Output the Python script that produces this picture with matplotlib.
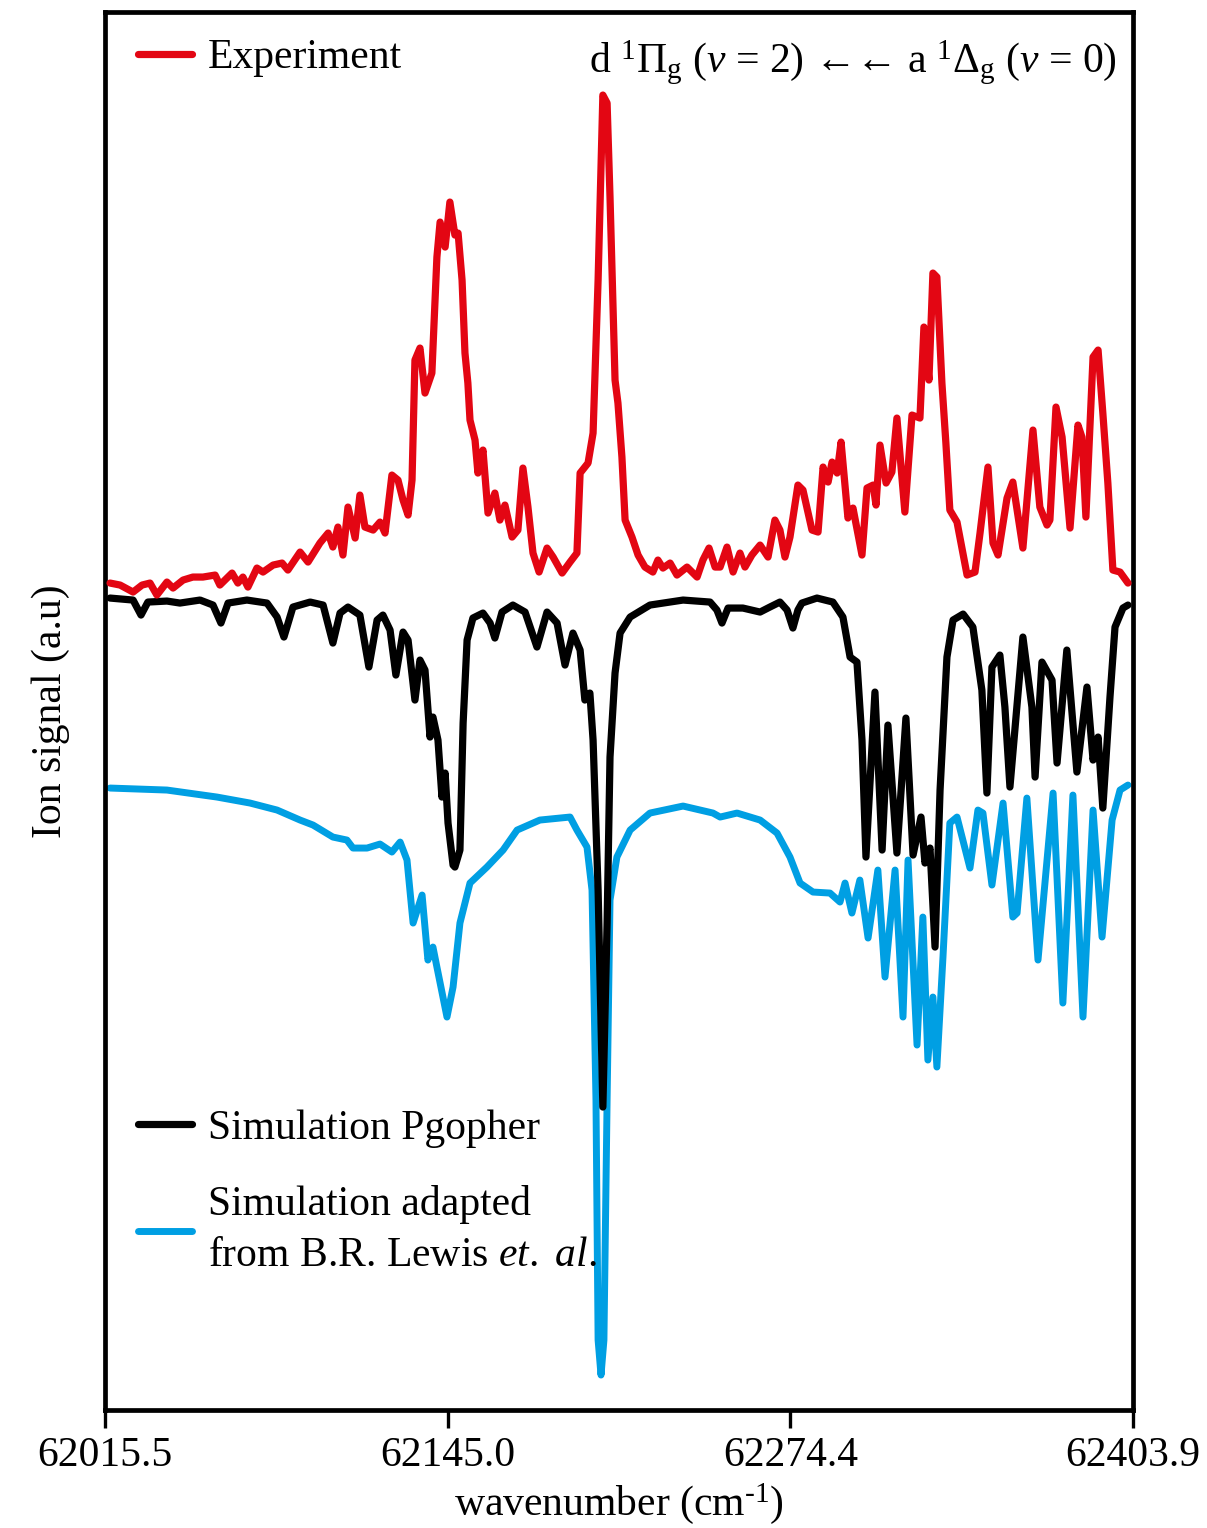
import numpy as np
import matplotlib
matplotlib.use("Agg")
import matplotlib.pyplot as plt

plt.rcParams["font.family"] = ["Liberation Serif", "DejaVu Sans"]
plt.rcParams["mathtext.fontset"] = "custom"
plt.rcParams["mathtext.rm"] = "Liberation Serif"
plt.rcParams["mathtext.it"] = "Liberation Serif:italic"
plt.rcParams["mathtext.bf"] = "Liberation Serif:bold"

# ---- experimental REMPI spectrum (relative ion signal) ----
exp_wn = [62017.4, 62021.2, 62026.1, 62029.5, 62032.5, 62035.1, 62038.9, 62041.2, 62045.0, 62048.7,
          62052.5, 62057.1, 62058.9, 62063.5, 62065.7, 62067.6, 62069.5, 62072.9, 62075.2, 62079.0,
          62082.4, 62084.6, 62089.2, 62092.2, 62096.7, 62099.8, 62101.6, 62103.5, 62105.4, 62107.3,
          62110.0, 62111.8, 62113.7, 62116.8, 62119.4, 62121.3, 62123.9, 62126.2, 62128.1, 62130.0,
          62131.5, 62132.6, 62134.5, 62136.4, 62139.0, 62140.9, 62142.1, 62144.0, 62145.8, 62147.7,
          62148.9, 62150.4, 62151.5, 62152.6, 62153.4, 62155.3, 62156.4, 62158.3, 62160.2, 62162.8,
          62164.7, 62166.6, 62169.3, 62171.5, 62173.4, 62175.3, 62177.2, 62179.5, 62182.5, 62184.8,
          62188.2, 62191.2, 62193.8, 62195.0, 62198.0, 62199.9, 62201.8, 62203.6, 62205.2, 62206.3,
          62208.2, 62209.3, 62210.8, 62212.0, 62214.6, 62216.9, 62219.5, 62222.5, 62224.4, 62226.3,
          62229.0, 62231.6, 62235.4, 62239.2, 62241.4, 62243.7, 62246.0, 62247.9, 62250.5, 62252.8,
          62255.4, 62257.3, 62259.9, 62263.0, 62266.0, 62268.6, 62270.5, 62272.4, 62274.3, 62277.3,
          62279.2, 62282.6, 62284.9, 62286.8, 62288.7, 62290.2, 62292.1, 62293.6, 62296.2, 62298.1,
          62301.5, 62303.4, 62305.7, 62306.8, 62308.3, 62310.6, 62312.8, 62314.7, 62317.7, 62320.4,
          62323.4, 62324.9, 62326.8, 62328.3, 62329.8, 62331.7, 62333.2, 62334.7, 62337.4, 62341.2,
          62344.2, 62346.1, 62349.1, 62351.0, 62352.9, 62356.3, 62358.5, 62362.3, 62366.1, 62368.7,
          62371.4, 62372.5, 62374.8, 62377.1, 62380.1, 62383.1, 62384.6, 62386.1, 62388.8, 62390.7,
          62392.5, 62394.4, 62396.3, 62399.0, 62402.0]
exp_sig = [0.02, 0.00, -0.07, 0.00, 0.02, -0.10, 0.03, -0.03, 0.05, 0.08,
           0.08, 0.10, 0.00, 0.12, 0.02, 0.08, -0.02, 0.17, 0.13, 0.20,
           0.22, 0.15, 0.33, 0.23, 0.42, 0.52, 0.38, 0.58, 0.30, 0.78,
           0.47, 0.90, 0.58, 0.55, 0.63, 0.52, 1.10, 1.05, 0.85, 0.70,
           1.05, 2.25, 2.37, 1.92, 2.12, 3.28, 3.63, 3.38, 3.83, 3.50,
           3.52, 3.05, 2.32, 2.02, 1.65, 1.45, 1.12, 1.35, 0.72, 0.92,
           0.65, 0.80, 0.48, 0.55, 1.17, 0.78, 0.32, 0.13, 0.37, 0.28,
           0.12, 0.23, 0.32, 1.12, 1.22, 1.52, 3.05, 4.90, 4.82, 3.88,
           2.05, 1.82, 1.28, 0.65, 0.48, 0.30, 0.18, 0.13, 0.25, 0.17,
           0.22, 0.10, 0.18, 0.08, 0.25, 0.37, 0.18, 0.18, 0.38, 0.13,
           0.32, 0.18, 0.30, 0.40, 0.28, 0.65, 0.55, 0.28, 0.48, 1.00,
           0.95, 0.55, 0.53, 1.18, 1.03, 1.23, 1.12, 1.43, 0.67, 0.77,
           0.30, 0.97, 1.00, 0.80, 1.40, 1.02, 1.13, 1.67, 0.73, 1.70,
           1.67, 2.58, 2.05, 3.12, 3.08, 2.02, 1.42, 0.75, 0.63, 0.10,
           0.13, 0.52, 1.18, 0.42, 0.30, 0.87, 1.03, 0.37, 1.55, 0.78,
           0.60, 0.65, 1.78, 1.48, 0.57, 1.60, 1.48, 0.68, 2.28, 2.35,
           1.72, 1.02, 0.15, 0.13, 0.02]

# ---- PGOPHER simulation (plotted inverted) ----
pg_wn = [62017.4, 62026.1, 62029.1, 62031.7, 62038.9, 62043.8, 62051.4, 62056.3, 62059.3, 62062.0,
         62069.1, 62076.7, 62080.5, 62083.1, 62086.5, 62093.0, 62097.9, 62101.6, 62104.3, 62107.3,
         62111.8, 62115.2, 62118.3, 62120.5, 62123.2, 62125.4, 62128.1, 62130.0, 62132.6, 62134.5,
         62136.4, 62138.3, 62139.4, 62141.3, 62142.8, 62144.0, 62145.1, 62147.0, 62147.7, 62149.6,
         62150.8, 62152.3, 62154.5, 62158.3, 62161.0, 62162.8, 62165.5, 62169.6, 62174.2, 62178.7,
         62182.5, 62186.3, 62189.3, 62192.3, 62195.0, 62196.8, 62198.7, 62199.9, 62201.8, 62203.6,
         62205.2, 62206.3, 62208.2, 62210.1, 62213.9, 62221.4, 62233.9, 62244.1, 62246.7, 62248.6,
         62250.9, 62256.5, 62263.0, 62266.7, 62270.5, 62273.2, 62275.4, 62277.3, 62278.8, 62284.5,
         62290.5, 62294.3, 62297.0, 62299.6, 62301.5, 62303.0, 62306.4, 62309.1, 62311.3, 62314.7,
         62318.1, 62320.8, 62323.8, 62325.3, 62327.2, 62329.1, 62331.0, 62333.6, 62335.9, 62339.7,
         62343.4, 62346.8, 62348.7, 62350.6, 62353.6, 62355.5, 62357.4, 62362.3, 62365.7, 62366.9,
         62369.5, 62373.3, 62375.2, 62378.9, 62382.7, 62386.5, 62388.8, 62390.7, 62392.5, 62395.2,
         62397.1, 62400.1, 62402.0]
pg_sig = [0.02, 0.00, -0.15, -0.02, -0.01, -0.03, 0.00, -0.05, -0.23, -0.03,
          0.00, -0.03, -0.17, -0.37, -0.07, -0.02, -0.05, -0.43, -0.13, -0.07,
          -0.15, -0.67, -0.20, -0.15, -0.30, -0.75, -0.32, -0.40, -1.00, -0.60,
          -0.70, -1.37, -1.17, -1.40, -1.97, -1.73, -2.23, -2.65, -2.67, -2.50,
          -1.23, -0.40, -0.18, -0.13, -0.23, -0.38, -0.12, -0.05, -0.12, -0.47,
          -0.12, -0.23, -0.65, -0.33, -0.50, -1.00, -0.93, -1.40, -2.90, -5.07,
          -3.23, -1.57, -0.73, -0.33, -0.17, -0.05, 0.00, -0.02, -0.10, -0.23,
          -0.08, -0.08, -0.12, -0.07, -0.02, -0.10, -0.28, -0.10, -0.03, 0.02,
          -0.02, -0.17, -0.57, -0.62, -1.40, -2.57, -0.92, -2.50, -1.25, -2.53,
          -1.18, -2.55, -2.17, -2.63, -2.48, -3.47, -1.90, -0.57, -0.20, -0.14,
          -0.27, -0.90, -1.93, -0.67, -0.55, -1.07, -1.87, -0.37, -1.07, -1.77,
          -0.62, -0.80, -1.63, -0.50, -1.72, -0.87, -1.60, -1.37, -2.08, -0.97,
          -0.27, -0.08, -0.05]

# ---- simulation adapted from B.R. Lewis et al. (plotted inverted) ----
bl_wn = [62017.4, 62038.9, 62057.8, 62070.3, 62080.5, 62089.2, 62094.1, 62101.6, 62106.9, 62109.2,
         62114.5, 62119.4, 62123.9, 62127.0, 62129.6, 62131.9, 62135.3, 62137.5, 62139.4, 62140.9,
         62144.7, 62147.0, 62149.6, 62153.4, 62159.8, 62165.9, 62171.2, 62179.8, 62191.2, 62193.8,
         62197.6, 62199.5, 62201.0, 62201.8, 62202.9, 62204.0, 62205.2, 62206.3, 62208.9, 62213.9,
         62221.4, 62233.9, 62245.2, 62247.9, 62254.3, 62263.0, 62269.4, 62274.3, 62278.1, 62283.0,
         62289.4, 62293.2, 62295.1, 62297.7, 62300.7, 62303.8, 62307.5, 62310.2, 62314.0, 62317.0,
         62318.9, 62322.3, 62324.5, 62326.4, 62328.3, 62329.8, 62332.1, 62334.7, 62337.4, 62342.3,
         62345.3, 62347.2, 62350.6, 62354.8, 62358.5, 62360.1, 62363.8, 62368.0, 62373.7, 62377.4,
         62381.2, 62385.0, 62388.8, 62392.2, 62396.0, 62399.0, 62402.0]
bl_sig = [0.00, -0.02, -0.09, -0.15, -0.22, -0.32, -0.37, -0.49, -0.52, -0.60,
          -0.60, -0.56, -0.64, -0.54, -0.72, -1.35, -1.07, -1.72, -1.59, -1.79,
          -2.29, -1.99, -1.35, -0.95, -0.79, -0.62, -0.42, -0.32, -0.29, -0.42,
          -0.59, -1.02, -3.12, -5.52, -5.87, -5.52, -3.12, -1.12, -0.69, -0.42,
          -0.25, -0.18, -0.25, -0.29, -0.25, -0.32, -0.45, -0.69, -0.95, -1.04,
          -1.05, -1.14, -0.95, -1.25, -0.92, -1.50, -0.82, -1.89, -0.82, -2.29,
          -0.72, -2.57, -1.29, -2.72, -2.09, -2.79, -1.69, -0.35, -0.29, -0.80,
          -0.22, -0.25, -0.97, -0.15, -1.29, -1.25, -0.10, -1.72, -0.05, -2.15,
          -0.07, -2.29, -0.22, -1.49, -0.32, -0.02, 0.03]

# vertical offsets used to stack the three traces
exp_offset = 8.25
pg_offset = 8.10
bl_offset = 6.22

tick_wn = [62015.5, 62145.0, 62274.4, 62403.9]
tick_labels = ["62015.5", "62145.0", "62274.4", "62403.9"]

RED = "#e30613"
BLUE = "#009fe3"
FS = 30

fig = plt.figure(figsize=(12.07, 15.28), dpi=100)
ax = fig.add_axes([0.087, 0.0772, 0.8517, 0.9149])

style = dict(solid_joinstyle="round", solid_capstyle="round")
line_bl, = ax.plot(bl_wn, np.array(bl_sig) + bl_offset, color=BLUE, lw=5.0, zorder=2, **style)
line_pg, = ax.plot(pg_wn, np.array(pg_sig) + pg_offset, color="black", lw=5.2, zorder=3, **style)
line_exp, = ax.plot(exp_wn, np.array(exp_sig) + exp_offset, color=RED, lw=5.2, zorder=4, **style)

ax.set_xlim(tick_wn[0], tick_wn[-1])
ax.set_ylim(0, 13.98)
ax.set_xticks(tick_wn)
ax.set_xticklabels(tick_labels)
ax.set_yticks([])
ax.tick_params(axis="x", direction="out", length=13, width=2.4, pad=6, labelsize=FS)
for sp in ax.spines.values():
    sp.set_linewidth(3.4)

ax.set_xlabel(r"wavenumber (cm$^{\text{-1}}$)", fontsize=FS)
ax.xaxis.set_label_coords(0.5, -0.051)
ax.set_ylabel("Ion signal (a.u)", fontsize=FS)
ax.yaxis.set_label_coords(-0.034, 0.5)

ax.text(0.984, 0.9565,
        r"d $^{1}\Pi_{\rm g}$ ($v$ = 2) ←← a $^{1}\Delta_{\rm g}$ ($v$ = 0)",
        transform=ax.transAxes, ha="right", va="baseline", fontsize=FS)

leg_kw = dict(frameon=False, fontsize=FS, handlelength=1.3, handletextpad=0.38,
              borderpad=0, borderaxespad=0, loc="upper left")
leg1 = ax.legend([line_exp], ["Experiment"], bbox_to_anchor=(0.032, 0.981), **leg_kw)
ax.add_artist(leg1)
leg2 = ax.legend([line_pg, line_bl],
                 ["Simulation Pgopher", "Simulation adapted\nfrom B.R. Lewis $et.\\ al.$"],
                 bbox_to_anchor=(0.032, 0.215), labelspacing=0.9, **leg_kw)
leg2.get_texts()[1].set_linespacing(1.42)

fig.savefig("out.png", dpi=100)
